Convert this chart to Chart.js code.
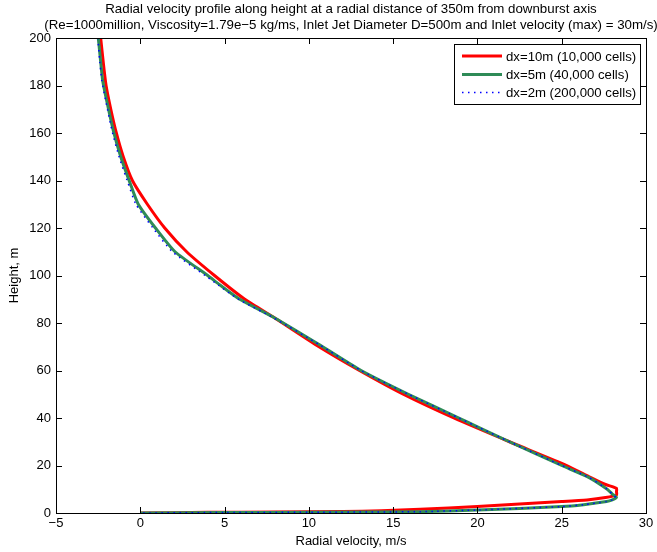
<!DOCTYPE html>
<html>
<head>
<meta charset="utf-8">
<script src="https://cdn.jsdelivr.net/npm/chart.js@4.4.0/dist/chart.umd.min.js"></script>
<style>
  html, body { margin: 0; padding: 0; background: #fff; }
  #wrap { width: 657px; height: 552px; }
</style>
</head>
<body>
<div id="wrap"><canvas id="myChart" width="657" height="552"></canvas></div>
<script>
// chart text
const titleLines = [
  "Radial velocity profile along height at a radial distance of 350m from downburst axis",
  "(Re=1000million, Viscosity=1.79e\u22125 kg/ms, Inlet Jet Diameter D=500m and Inlet velocity (max) = 30m/s)"
];
const xLabel = "Radial velocity, m/s";
const yLabel = "Height, m";
const seriesNames = ["dx=10m (10,000 cells)", "dx=5m (40,000 cells)", "dx=2m (200,000 cells)"];

// axis ranges
const xTicks = [-5, 0, 5, 10, 15, 20, 25, 30];
const yTicks = [0, 20, 40, 60, 80, 100, 120, 140, 160, 180, 200];

// dx=10m : height (m) and radial velocity (m/s)
const heights10 = [200, 190, 180, 170, 160, 150, 140, 130, 120, 110, 100, 90, 82, 70, 60, 50, 40, 30, 20, 15, 12, 10.4, 9, 7.6, 6.5, 5.5, 4.8, 3.8, 2.7, 1.6, 1.0, 0.6, 0.4, 0.3, 0];
const velocity10 = [-2.35, -2.2, -2.03, -1.75, -1.42, -1.01, -0.47, 0.42, 1.45, 2.75, 4.4, 6.2, 8.0, 10.6, 13.0, 15.6, 18.6, 21.9, 25.3, 26.7, 27.6, 28.25, 28.25, 28.25, 27.6, 26.5, 25.0, 22.5, 20.0, 16.6, 14.3, 12, 8, 4, 0];

// dx=5m
const heights5 = [200, 190, 182, 172.5, 161, 150, 139, 130, 120, 110, 100, 96, 90, 82, 70.7, 60, 50, 40, 36.3, 30, 20, 15, 10, 8, 6.5, 5.5, 4.8, 3.5, 2.7, 1.26, 0.56, 0.3, 0.2, 0];
const velocity5 = [-2.49, -2.35, -2.23, -1.96, -1.60, -1.16, -0.61, -0.12, 0.9, 2.06, 4.0, 4.73, 5.9, 8.0, 10.66, 13.1, 15.9, 18.9, 20, 21.9, 25, 26.6, 27.7, 28.0, 28.25, 28.0, 27.66, 26.3, 25, 20, 16.6, 10, 5, 0];

// dx=2m
const heights2 = [200, 190, 182, 172.5, 161, 150, 139, 130, 120, 110, 100, 96, 90, 82, 70.7, 60, 50, 40, 36.3, 30, 20, 15, 10, 8, 6.5, 5.5, 4.8, 3.5, 2.7, 1.26, 0.56, 0.3, 0.2, 0];
const velocity2 = [-2.52, -2.4, -2.28, -2.02, -1.68, -1.26, -0.73, -0.26, 0.75, 1.9, 3.85, 4.62, 5.82, 7.95, 10.66, 13.1, 15.9, 18.9, 20, 21.9, 25, 26.6, 27.7, 28.0, 28.2, 28.0, 27.66, 26.3, 25, 20, 16.6, 10, 5, 0];

const colors = ["#ff0000", "#2e8b57", "#0000ff"];

function toPoints(xs, ys) {
  return xs.map((v, i) => ({ x: v, y: ys[i] }));
}

const FONT = "'Liberation Sans', Arial, Helvetica, sans-serif";

// MATLAB-like box with inward ticks, title and legend
const matlabBox = {
  id: "matlabBox",
  afterDraw(chart) {
    const ctx = chart.ctx;
    const a = chart.chartArea;
    const xs = chart.scales.x, ys = chart.scales.y;
    const len = 6;
    ctx.save();
    ctx.strokeStyle = "#000";
    ctx.lineWidth = 1;
    ctx.beginPath();
    xTicks.forEach(t => {
      const px = Math.round(xs.getPixelForValue(t)) + 0.5;
      ctx.moveTo(px, a.bottom); ctx.lineTo(px, a.bottom - len);
      ctx.moveTo(px, a.top); ctx.lineTo(px, a.top + len);
    });
    yTicks.forEach(t => {
      const py = Math.round(ys.getPixelForValue(t)) + 0.5;
      ctx.moveTo(a.left, py); ctx.lineTo(a.left + len, py);
      ctx.moveTo(a.right, py); ctx.lineTo(a.right - len, py);
    });
    ctx.stroke();
    ctx.strokeRect(Math.round(a.left) + 0.5, Math.round(a.top) + 0.5,
      Math.round(a.right - a.left), Math.round(a.bottom - a.top));

    // title
    ctx.fillStyle = "#000";
    ctx.font = "13.3px " + FONT;
    ctx.textAlign = "center";
    ctx.textBaseline = "middle";
    const cx = (a.left + a.right) / 2;
    ctx.fillText(titleLines[0], cx, 9.5);
    ctx.fillText(titleLines[1], cx, 25);

    // legend
    const lx = 454, ly = 44, lw = 186, lh = 60;
    ctx.fillStyle = "#fff";
    ctx.fillRect(lx, ly, lw, lh);
    ctx.strokeRect(lx + 0.5, ly + 0.5, lw, lh);
    ctx.textAlign = "left";
    ctx.fillStyle = "#000";
    ctx.font = "13.2px " + FONT;
    const rows = [56, 74.5, 92.5];
    chart.data.datasets.forEach((ds, i) => {
      ctx.save();
      ctx.strokeStyle = ds.borderColor;
      ctx.lineWidth = ds.borderWidth;
      ctx.setLineDash(ds.borderDash || []);
      ctx.beginPath();
      ctx.moveTo(462, rows[i]);
      ctx.lineTo(502, rows[i]);
      ctx.stroke();
      ctx.restore();
      ctx.fillText(seriesNames[i], 506, rows[i] + 1);
    });
    ctx.restore();
  }
};

const ctx = document.getElementById("myChart").getContext("2d");
const myChart = new Chart(ctx, {
  type: "scatter",
  data: {
    datasets: [
      {
        label: seriesNames[0],
        data: toPoints(velocity10, heights10),
        borderColor: colors[0],
        borderWidth: 3,
        showLine: true,
        pointRadius: 0,
        tension: 0.2,
        order: 3
      },
      {
        label: seriesNames[1],
        data: toPoints(velocity5, heights5),
        borderColor: colors[1],
        borderWidth: 3,
        showLine: true,
        pointRadius: 0,
        tension: 0.2,
        order: 2
      },
      {
        label: seriesNames[2],
        data: toPoints(velocity2, heights2),
        borderColor: colors[2],
        borderWidth: 1.5,
        borderDash: [1.5, 4.5],
        showLine: true,
        pointRadius: 0,
        tension: 0.2,
        order: 1
      }
    ]
  },
  options: {
    responsive: false,
    animation: false,
    layout: { padding: { top: 38, right: 11, left: 0, bottom: 0 } },
    plugins: {
      legend: { display: false },
      title: { display: false },
      tooltip: { enabled: false }
    },
    scales: {
      x: {
        type: "linear",
        min: -5,
        max: 30,
        afterBuildTicks: (scale) => { scale.ticks = xTicks.map(v => ({ value: v })); },
        afterFit: (scale) => { scale.height = 39; },
        grid: { display: false, drawTicks: false },
        border: { display: false },
        ticks: {
          padding: 3,
          color: "#000",
          font: { family: FONT, size: 13 },
          callback: (v) => String(v).replace("-", "\u2212")
        },
        title: {
          display: true,
          text: xLabel,
          color: "#000",
          font: { family: FONT, size: 13 },
          padding: { top: 0, bottom: 3 }
        }
      },
      y: {
        type: "linear",
        min: 0,
        max: 200,
        afterBuildTicks: (scale) => { scale.ticks = yTicks.map(v => ({ value: v })); },
        afterFit: (scale) => { scale.width = 56; },
        grid: { display: false, drawTicks: false },
        border: { display: false },
        ticks: {
          padding: 5,
          color: "#000",
          font: { family: FONT, size: 13 },
          callback: (v) => String(v)
        },
        title: {
          display: true,
          text: yLabel,
          color: "#000",
          font: { family: FONT, size: 13 },
          padding: { top: 7, bottom: 0 }
        }
      }
    }
  },
  plugins: [matlabBox]
});
</script>
</body>
</html>
